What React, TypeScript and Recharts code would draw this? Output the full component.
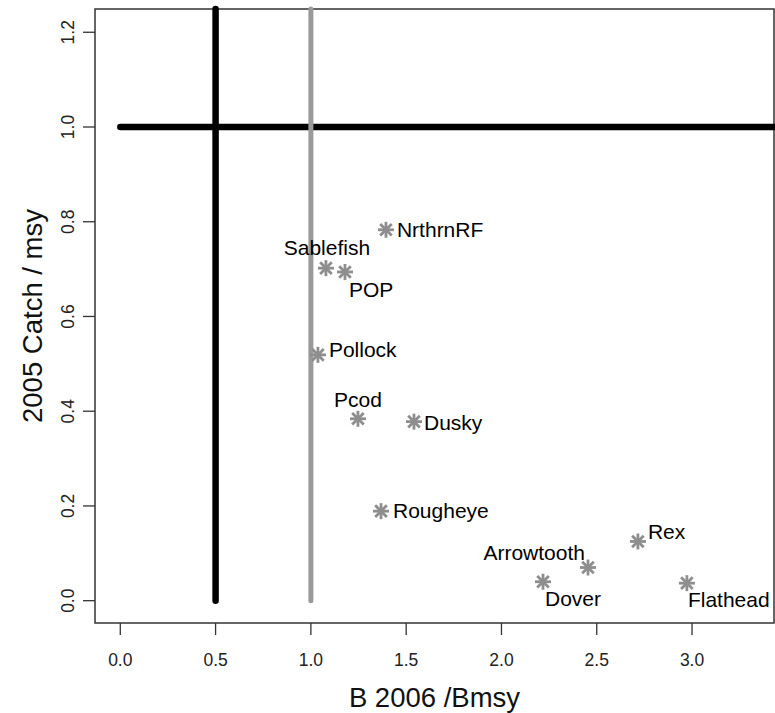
import React from 'react';
import {
  ScatterChart,
  Scatter,
  XAxis,
  YAxis,
  ReferenceLine,
  ReferenceArea,
  Label,
} from 'recharts';

// Stock status: biomass ratio vs catch ratio, one point per stock
const species = [
  'NrthrnRF',
  'Sablefish',
  'POP',
  'Pollock',
  'Pcod',
  'Dusky',
  'Rougheye',
  'Arrowtooth',
  'Dover',
  'Rex',
  'Flathead',
];
const bRatio = [1.394, 1.079, 1.179, 1.037, 1.247, 1.541, 1.368, 2.454, 2.218, 2.716, 2.973];
const catchRatio = [0.783, 0.702, 0.694, 0.519, 0.384, 0.378, 0.189, 0.07, 0.04, 0.125, 0.037];

const xTicks = [0, 0.5, 1, 1.5, 2, 2.5, 3];
const yTicks = [0, 0.2, 0.4, 0.6, 0.8, 1, 1.2];
const xDomain: [number, number] = [-0.1327, 3.43];
const yDomain: [number, number] = [-0.0471, 1.2491];

const FONT = '"Liberation Sans", Arial, Helvetica, sans-serif';
const STAR_GREY = '#8e8e8e';

// where each name sits relative to its asterisk
const labelPlacement: Record<string, { dx: number; dy: number; anchor: 'start' | 'middle' | 'end' }> = {
  NrthrnRF: { dx: 11, dy: 7, anchor: 'start' },
  Sablefish: { dx: 1, dy: -13, anchor: 'middle' },
  POP: { dx: 4, dy: 25, anchor: 'start' },
  Pollock: { dx: 11, dy: 2, anchor: 'start' },
  Pcod: { dx: 0, dy: -12, anchor: 'middle' },
  Dusky: { dx: 10, dy: 8, anchor: 'start' },
  Rougheye: { dx: 12, dy: 7, anchor: 'start' },
  Arrowtooth: { dx: -3, dy: -8, anchor: 'end' },
  Dover: { dx: 2, dy: 24, anchor: 'start' },
  Rex: { dx: 10, dy: -2, anchor: 'start' },
  Flathead: { dx: 1, dy: 24, anchor: 'start' },
};

const points = species.map((name, i) => ({ name, b: bRatio[i], c: catchRatio[i] }));

function StarPoint(props: any) {
  const { cx, cy, payload } = props;
  if (cx == null || cy == null) return null;
  const r = 8;
  const d = 5.8;
  const place = labelPlacement[payload.name];
  return (
    <g>
      <g stroke={STAR_GREY} strokeWidth={2.8} strokeLinecap="butt">
        <line x1={cx - r} y1={cy} x2={cx + r} y2={cy} />
        <line x1={cx} y1={cy - r} x2={cx} y2={cy + r} />
        <line x1={cx - d} y1={cy - d} x2={cx + d} y2={cy + d} />
        <line x1={cx - d} y1={cy + d} x2={cx + d} y2={cy - d} />
      </g>
      <text
        x={cx + place.dx}
        y={cy + place.dy}
        textAnchor={place.anchor}
        fontSize={21}
        fontFamily={FONT}
        fill="#000"
      >
        {payload.name}
      </text>
    </g>
  );
}

function XTick(props: any) {
  const { x, y, payload } = props;
  return (
    <text x={x} y={y + 31} textAnchor="middle" fontSize={17.5} fontFamily={FONT} fill="#222">
      {payload.value.toFixed(1)}
    </text>
  );
}

function YTick(props: any) {
  const { x, y, payload } = props;
  const tx = x - 9;
  return (
    <text
      x={tx}
      y={y}
      textAnchor="middle"
      transform={`rotate(-90, ${tx}, ${y})`}
      fontSize={17.5}
      fontFamily={FONT}
      fill="#222"
    >
      {payload.value.toFixed(1)}
    </text>
  );
}

function XTitle(props: any) {
  const { x, y, width } = props.viewBox;
  return (
    <text x={x + width / 2} y={y + 84} textAnchor="middle" fontSize={27.5} fontFamily={FONT} fill="#111">
      B 2006 /Bmsy
    </text>
  );
}

function YTitle(props: any) {
  const { y, height } = props.viewBox;
  const cy = y + height / 2;
  return (
    <text
      x={42}
      y={cy}
      textAnchor="middle"
      transform={`rotate(-90, 42, ${cy})`}
      fontSize={27.5}
      fontFamily={FONT}
      fill="#111"
    >
      2005 Catch / msy
    </text>
  );
}

export default function App() {
  return (
    <div style={{ position: 'absolute', left: 0, top: 0, background: '#fff' }}>
      <ScatterChart
        width={775}
        height={713}
        margin={{ top: 9, right: 1, bottom: 0, left: 0 }}
        style={{ fontFamily: FONT }}
      >
        <XAxis
          type="number"
          dataKey="b"
          domain={xDomain}
          allowDataOverflow
          ticks={xTicks}
          interval={0}
          height={90}
          axisLine={false}
          tickSize={12}
          tickMargin={0}
          tickLine={{ stroke: '#333', strokeWidth: 1.3 }}
          tick={<XTick />}
        >
          <Label content={<XTitle />} />
        </XAxis>
        <YAxis
          type="number"
          dataKey="c"
          domain={yDomain}
          allowDataOverflow
          ticks={yTicks}
          interval={0}
          width={95}
          axisLine={false}
          tickSize={12}
          tickMargin={0}
          tickLine={{ stroke: '#333', strokeWidth: 1.3 }}
          tick={<YTick />}
        >
          <Label content={<YTitle />} />
        </YAxis>
        <ReferenceArea
          x1={xDomain[0]}
          x2={xDomain[1]}
          y1={yDomain[0]}
          y2={yDomain[1]}
          fill="none"
          stroke="#333"
          strokeWidth={1.5}
        />
        <ReferenceLine
          segment={[
            { x: 0, y: 1 },
            { x: xDomain[1], y: 1 },
          ]}
          stroke="#000"
          strokeWidth={6.5}
          strokeLinecap="round"
        />
        <ReferenceLine
          segment={[
            { x: 0.5, y: 0 },
            { x: 0.5, y: yDomain[1] },
          ]}
          stroke="#000"
          strokeWidth={6.5}
          strokeLinecap="round"
        />
        <ReferenceLine
          segment={[
            { x: 1, y: 0 },
            { x: 1, y: yDomain[1] },
          ]}
          stroke="#9a9a9a"
          strokeWidth={5}
          strokeLinecap="round"
        />
        <Scatter data={points} shape={<StarPoint />} isAnimationActive={false} />
      </ScatterChart>
    </div>
  );
}
